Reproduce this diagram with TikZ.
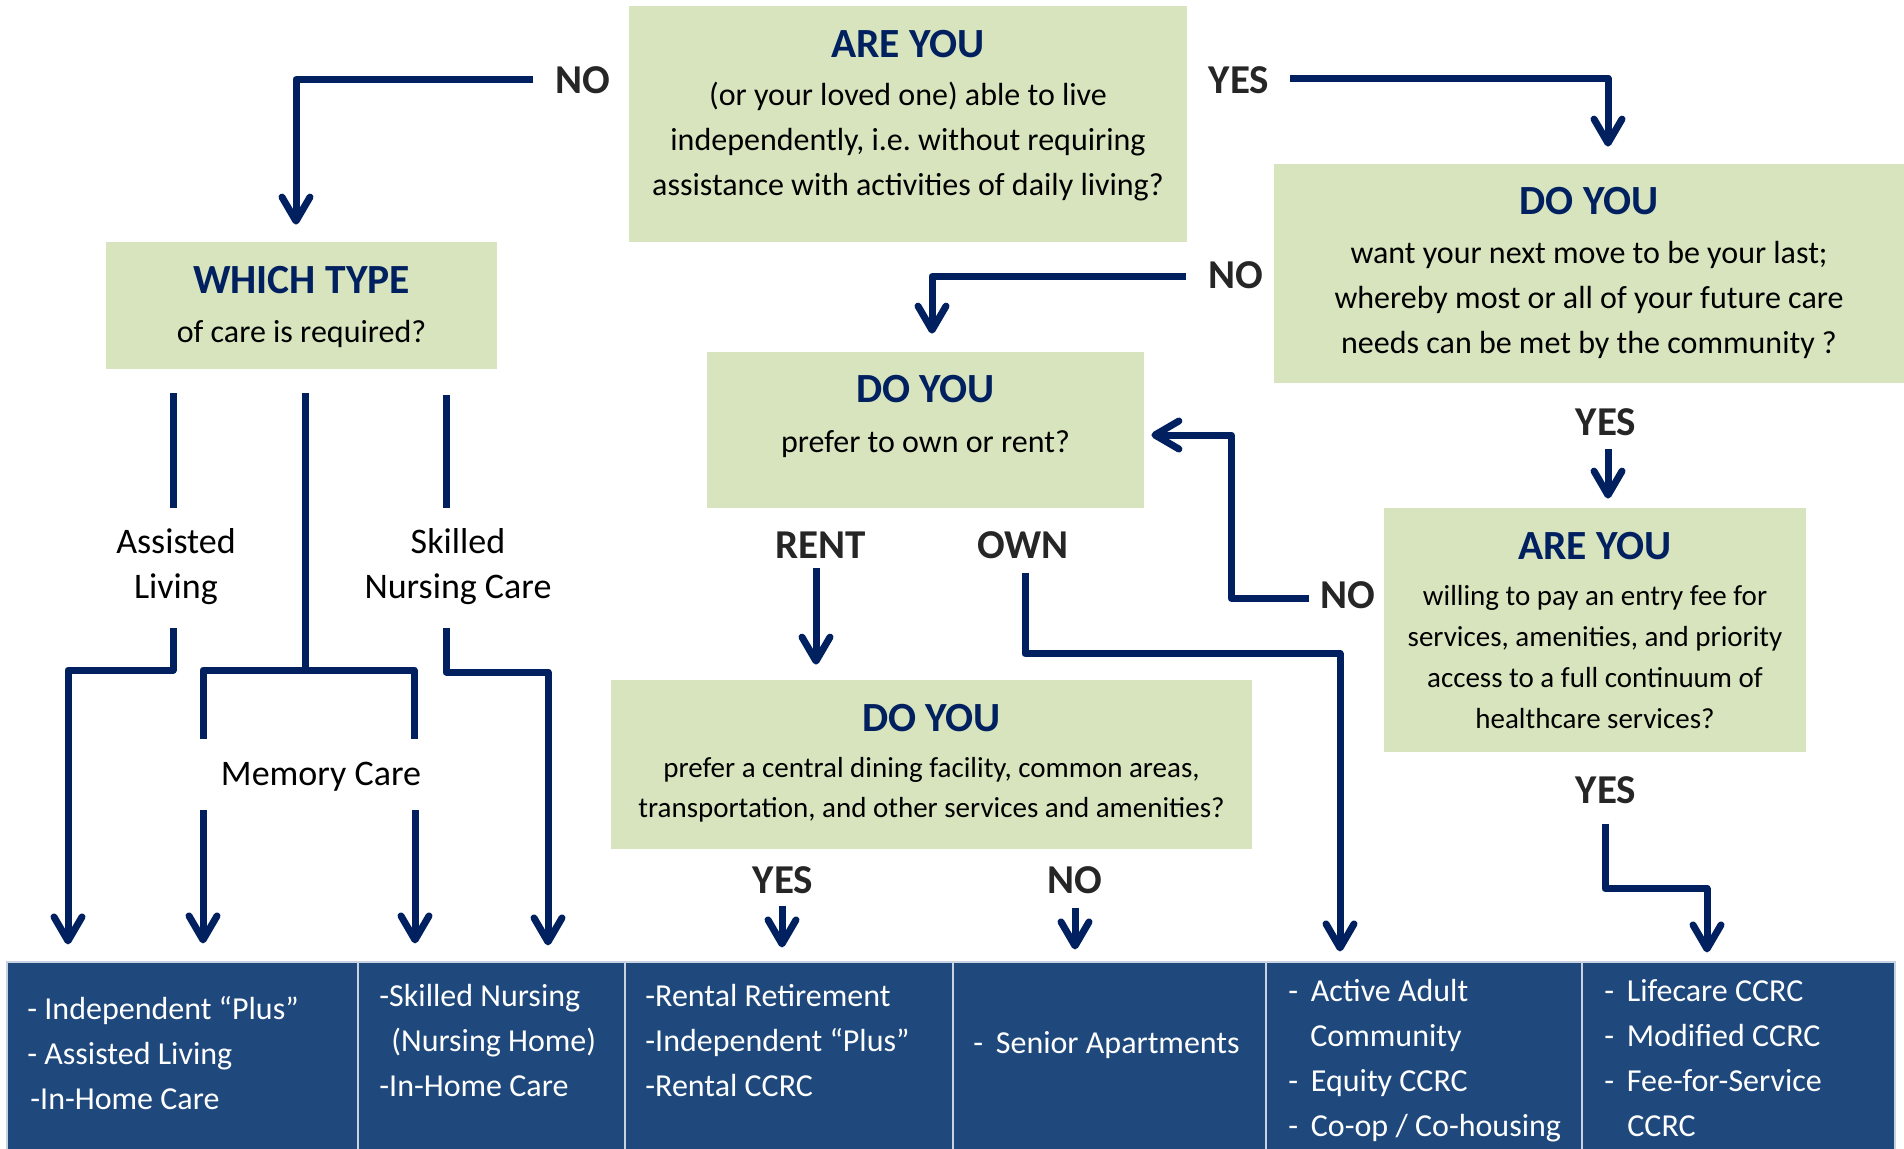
\documentclass[tikz,border=0pt]{standalone}
\usepackage{fontspec}
\setmainfont{Carlito}
\usetikzlibrary{arrows.meta,calc,fit}
\definecolor{navy}{HTML}{002060}
\definecolor{boxgreen}{HTML}{D7E4BD}
\definecolor{tblue}{HTML}{1F497D}
\definecolor{lblgray}{HTML}{262626}
\definecolor{tline}{HTML}{C8D2E0}
\newcommand\fsTitle{\fontsize{20.75pt}{24pt}\selectfont\bfseries}
\newcommand\fsBody{\fontsize{16pt}{19pt}\selectfont}
\newcommand\fsSmall{\fontsize{14.5pt}{17pt}\selectfont}
\newcommand\fsLab{\fontsize{20.5pt}{24pt}\selectfont\bfseries}
\newcommand\fsCare{\fontsize{18pt}{21pt}\selectfont}
\newcommand\myDashItem{\makebox[11.25pt][l]{-}}
\frenchspacing
\begin{document}
\begin{tikzpicture}[x=0.5pt, y=-0.5pt,
  gbox/.style={fill=boxgreen, draw=none, inner sep=0pt},
  tcell/.style={fill=tblue, draw=tline, line width=0.6pt, inner sep=0pt},
  ttl/.style={anchor=base, inner sep=0pt, text=navy, font=\fsTitle},
  bdy/.style={anchor=base, inner sep=0pt, text=black, font=\fsBody},
  sml/.style={anchor=base, inner sep=0pt, text=black, font=\fsSmall},
  lab/.style={anchor=base, inner sep=0pt, text=lblgray, font=\fsLab},
  care/.style={anchor=base, inner sep=0pt, text=black, font=\fsCare},
  ttx/.style={anchor=base west, inner sep=0pt, text=white, font=\fsBody},
  ln/.style={draw=navy, line width=3.5pt, line join=round},
  arr/.style={ln, -{Straight Barb[length=12pt,width=14pt,round]}}]
\fill[white] (0,0) rectangle (1904,1148);
\useasboundingbox (0,0) rectangle (1904,1148);

% ---------- green question boxes ----------
\node[gbox, fit={(629,6) (1187,242)}] (A) {};
\node[gbox, fit={(106,242) (497,369)}] (B) {};
\node[gbox, fit={(1274,164) (1904,383)}] (C) {};
\node[gbox, fit={(707,352) (1144,508)}] (D) {};
\node[gbox, fit={(1384,508) (1806,752)}] (E) {};
\node[gbox, fit={(611,680) (1252,849)}] (F) {};

% box A
\node[ttl] (Ah) at (908,57) {ARE YOU};
\node[bdy] (A1) at (908,105) {(or your loved one) able to live};
\node[bdy] (A2) at (908,150) {independently, i.e. without requiring};
\node[bdy] (A3) at (908,195) {assistance with activities of daily living?};
% box B
\node[ttl] (Bh) at (301.5,293) {WHICH TYPE};
\node[bdy] (B1) at (301.5,342) {of care is required?};
% box C
\node[ttl] (Ch) at (1589,214) {DO YOU};
\node[bdy] (C1) at (1589,263) {want your next move to be your last;};
\node[bdy] (C2) at (1589,308) {whereby most or all of your future care};
\node[bdy] (C3) at (1589,353) {needs can be met by the community ?};
% box D
\node[ttl] (Dh) at (925.5,402) {DO YOU};
\node[bdy] (D1) at (925.5,452) {prefer to own or rent?};
% box E
\node[ttl] (Eh) at (1595,559) {ARE YOU};
\node[sml] (E1) at (1595,605) {willing to pay an entry fee for};
\node[sml] (E2) at (1595,646) {services, amenities, and priority};
\node[sml] (E3) at (1595,687) {access to a full continuum of};
\node[sml] (E4) at (1595,728) {healthcare services?};
% box F
\node[ttl] (Fh) at (931.5,731) {DO YOU};
\node[sml] (F1) at (931.5,777) {prefer a central dining facility, common areas,};
\node[sml] (F2) at (931.5,817) {transportation, and other services and amenities?};

% ---------- answer labels ----------
\node[lab] (NO1) at (583,93) {NO};
\node[lab] (YES1) at (1239,93) {YES};
\node[lab] (NO2) at (1236,288) {NO};
\node[lab] (YES2) at (1606,435) {YES};
\node[lab] (NO3) at (1348,608) {NO};
\node[lab] (RENT) at (821,558) {RENT};
\node[lab] (OWN) at (1023,558) {OWN};
\node[lab] (YES3) at (783,893) {YES};
\node[lab] (NO4) at (1075,893) {NO};
\node[lab] (YES4) at (1606,803) {YES};

% ---------- care type labels ----------
\node[care] (AL1) at (176,553) {Assisted};
\node[care] (AL2) at (176,598) {Living};
\node[care] (SN1) at (458,553) {Skilled};
\node[care] (SN2) at (458,598) {Nursing Care};
\node[care] (MC) at (321,785) {Memory Care};

% ---------- bottom table ----------
\node[tcell, fit={(7,962) (358,1152)}] (t1) {};
\node[tcell, fit={(358,962) (625,1152)}] (t2) {};
\node[tcell, fit={(625,962) (953,1152)}] (t3) {};
\node[tcell, fit={(953,962) (1266,1152)}] (t4) {};
\node[tcell, fit={(1266,962) (1582,1152)}] (t5) {};
\node[tcell, fit={(1582,962) (1895,1152)}] (t6) {};

\node[ttx] (t1a) at (27,1019) {- Independent “Plus”};
\node[ttx] (t1b) at (27,1064) {- Assisted Living};
\node[ttx] (t1c) at (30,1109) {-In-Home Care};

\node[ttx] (t2a) at (379,1006) {-Skilled Nursing};
\node[ttx] (t2b) at (391,1051) {(Nursing Home)};
\node[ttx] (t2c) at (379,1096) {-In-Home Care};

\node[ttx] (t3a) at (645,1006) {-Rental Retirement};
\node[ttx] (t3b) at (645,1051) {-Independent “Plus”};
\node[ttx] (t3c) at (645,1096) {-Rental CCRC};

\node[ttx] (t4a) at (973,1053) {\myDashItem Senior Apartments};

\node[ttx] (t5a) at (1288,1001) {\myDashItem Active Adult};
\node[ttx] (t5b) at (1310,1046) {Community};
\node[ttx] (t5c) at (1288,1091) {\myDashItem Equity CCRC};
\node[ttx] (t5d) at (1288,1136) {\myDashItem Co-op / Co-housing};

\node[ttx] (t6a) at (1604,1001) {\myDashItem Lifecare CCRC};
\node[ttx] (t6b) at (1604,1046) {\myDashItem Modified CCRC};
\node[ttx] (t6c) at (1604,1091) {\myDashItem Fee-for-Service};
\node[ttx] (t6d) at (1627,1136) {CCRC};

% ---------- connectors: main flow ----------
\draw[arr] ($(NO1.west)+(-22,-0.5)$) -| ($(B.north)+(-5.5,-17)$);
\draw[arr] ($(YES1.east)+(20.5,-1.5)$) -| ($(C.north)+(19,-17)$);
\draw[arr] ($(NO2.west)+(-22,1.5)$) -| ($(D.north)+(6.5,-18)$);
\draw[arr] ($(YES2.south)+(2,13)$) -- ($(E.north)+(13,-9)$);
\draw[arr] ($(NO3.west)+(-11,3.5)$) -- ++(-78,0) |- ($(D.east)+(7,5)$);
\draw[arr] ($(RENT.south)+(-5,10)$) -- ($(F.north)+(-115.5,-15)$);
\draw[arr] ($(OWN.south)+(2,14)$) -- ++(0,81) -| ($(t5.north)+(-84,-10)$);
\draw[arr] ($(YES3.south)+(-1,12)$) -- ($(t3.north)+(-7,-14)$);
\draw[arr] ($(NO4.south)+(0,14)$) -- ($(t4.north)+(-34.5,-12)$);
\draw[arr] ($(YES4.south)+(-1,20)$) -- ++(0,65) -| ($(t6.north)+(-31.5,-9)$);

% ---------- connectors: care tree ----------
\draw[ln] ($(B.south)+(-128.5,24)$) -- ($(AL1.base)+(-3,-45)$);
\draw[ln] ($(B.south)+(3.5,24)$) -- ($(MC.base)+(-16,-115)$);
\draw[ln] ($(B.south)+(144.5,26)$) -- ($(SN1.base)+(-12,-45)$);
\draw[arr] ($(AL2.base)+(-3,30)$) -- ++(0,42) -| ($(t1.north)+(-114.5,-17)$);
\draw[ln] ($(MC.base)+(-118,-46)$) |- ($(MC.base)+(93,-115)$) -- ($(MC.base)+(93,-46)$);
\draw[arr] ($(MC.base)+(-118,25)$) -- ($(t1.north)+(20.5,-18)$);
\draw[arr] ($(MC.base)+(94,25)$) -- ($(t2.north)+(-76.5,-18)$);
\draw[arr] ($(SN2.base)+(-12,30)$) -- ++(0,44) -| ($(t2.north)+(56.5,-16)$);
\end{tikzpicture}
\end{document}
